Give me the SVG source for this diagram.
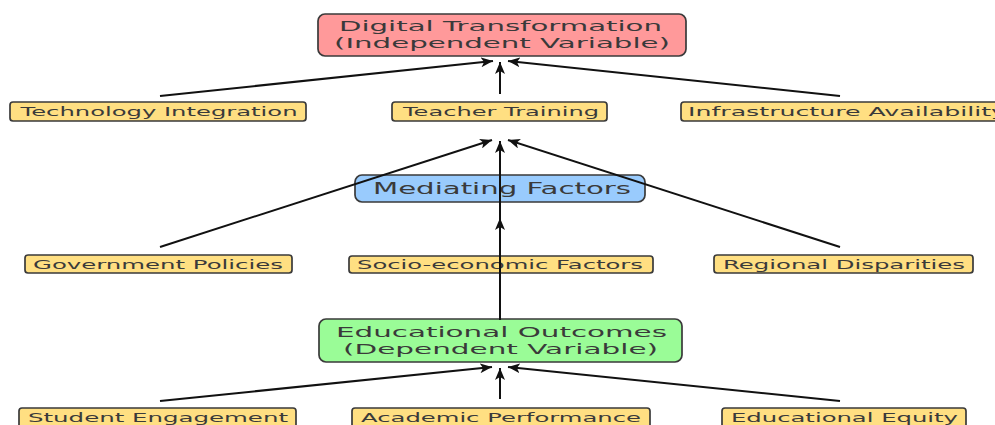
<svg xmlns="http://www.w3.org/2000/svg" width="995" height="425" viewBox="0 0 995 425">
  <defs>
    <marker id="arrow" markerUnits="userSpaceOnUse" markerWidth="13" markerHeight="10" refX="12" refY="5" orient="auto">
      <path d="M0,0 L12,5 L0,10 L3,5 z" fill="#111"/>
    </marker>
  </defs>
  <style>
    .box { stroke: #3a3a3a; stroke-width: 1.7; }
    .main { rx: 7px; ry: 7px; }
    .leaf { rx: 3px; ry: 3px; fill: #ffdf82; }
    .red { fill: #ff999a; }
    .blue { fill: #99cbfd; }
    .green { fill: #9afc97; }
    text { font-family: "DejaVu Sans", "Liberation Sans", sans-serif; fill: #3a3a3a; text-anchor: middle; }
    .big { font-size: 15.5px; }
    .two { font-size: 13.6px; }
    .small { font-size: 12px; }
    .edge { stroke: #111; stroke-width: 2; fill: none; marker-end: url(#arrow); }
  </style>
  <rect width="995" height="425" fill="#ffffff"/>

  <!-- top: independent variable -->
  <g id="digital-transformation">
    <rect class="box main red" x="318" y="14" width="368" height="42"/>
    <text class="two" x="500.5" y="31" textLength="323" lengthAdjust="spacingAndGlyphs">Digital Transformation</text>
    <text class="two" x="502" y="47.5" textLength="336" lengthAdjust="spacingAndGlyphs">(Independent Variable)</text>
  </g>

  <g id="technology-integration">
    <rect class="box leaf" x="10" y="102" width="296" height="19"/>
    <text class="small" x="159" y="116" textLength="277" lengthAdjust="spacingAndGlyphs">Technology Integration</text>
  </g>
  <g id="teacher-training">
    <rect class="box leaf" x="392" y="102" width="215" height="19"/>
    <text class="small" x="501" y="116" textLength="196" lengthAdjust="spacingAndGlyphs">Teacher Training</text>
  </g>
  <g id="infrastructure-availability">
    <rect class="box leaf" x="681" y="102" width="332" height="19"/>
    <text class="small" x="847" y="116" textLength="318" lengthAdjust="spacingAndGlyphs">Infrastructure Availability</text>
  </g>

  <!-- middle: mediating factors -->
  <g id="mediating-factors">
    <rect class="box main blue" x="355" y="175" width="290" height="27"/>
    <text class="big" x="502" y="193.5" textLength="258" lengthAdjust="spacingAndGlyphs">Mediating Factors</text>
  </g>

  <g id="government-policies">
    <rect class="box leaf" x="25" y="255" width="267" height="18"/>
    <text class="small" x="158" y="268.5" textLength="250" lengthAdjust="spacingAndGlyphs">Government Policies</text>
  </g>
  <g id="socio-economic-factors">
    <rect class="box leaf" x="349" y="256" width="304" height="17"/>
    <text class="small" x="500" y="268.5" textLength="286" lengthAdjust="spacingAndGlyphs">Socio-economic Factors</text>
  </g>
  <g id="regional-disparities">
    <rect class="box leaf" x="714" y="255" width="259" height="18"/>
    <text class="small" x="844" y="268.5" textLength="242" lengthAdjust="spacingAndGlyphs">Regional Disparities</text>
  </g>

  <!-- bottom: dependent variable -->
  <g id="educational-outcomes">
    <rect class="box main green" x="319" y="319" width="363" height="43"/>
    <text class="two" x="501.5" y="337" textLength="331" lengthAdjust="spacingAndGlyphs">Educational Outcomes</text>
    <text class="two" x="500.5" y="353.5" textLength="315" lengthAdjust="spacingAndGlyphs">(Dependent Variable)</text>
  </g>

  <g id="student-engagement">
    <rect class="box leaf" x="19" y="408" width="277" height="20"/>
    <text class="small" x="158" y="421.5" textLength="260" lengthAdjust="spacingAndGlyphs">Student Engagement</text>
  </g>
  <g id="academic-performance">
    <rect class="box leaf" x="352" y="408" width="298" height="20"/>
    <text class="small" x="501" y="421.5" textLength="280" lengthAdjust="spacingAndGlyphs">Academic Performance</text>
  </g>
  <g id="educational-equity">
    <rect class="box leaf" x="722" y="408" width="244" height="20"/>
    <text class="small" x="844.5" y="421.5" textLength="227" lengthAdjust="spacingAndGlyphs">Educational Equity</text>
  </g>

  <!-- connectors, drawn over the boxes they cross -->
  <g id="connectors">
    <line class="edge" x1="160" y1="96" x2="493" y2="61"/>
    <line class="edge" x1="500" y1="94" x2="500" y2="62"/>
    <line class="edge" x1="840" y1="96" x2="508" y2="61"/>
    <line class="edge" x1="160" y1="247" x2="492" y2="140"/>
    <line class="edge" x1="500" y1="320" x2="500" y2="141"/>
    <line class="edge" x1="840" y1="247" x2="508" y2="140"/>
    <line class="edge" x1="500" y1="250" x2="500" y2="218"/>
    <line class="edge" x1="160" y1="401" x2="492" y2="367"/>
    <line class="edge" x1="500" y1="399" x2="500" y2="368"/>
    <line class="edge" x1="840" y1="401" x2="508" y2="367"/>
  </g>
</svg>
